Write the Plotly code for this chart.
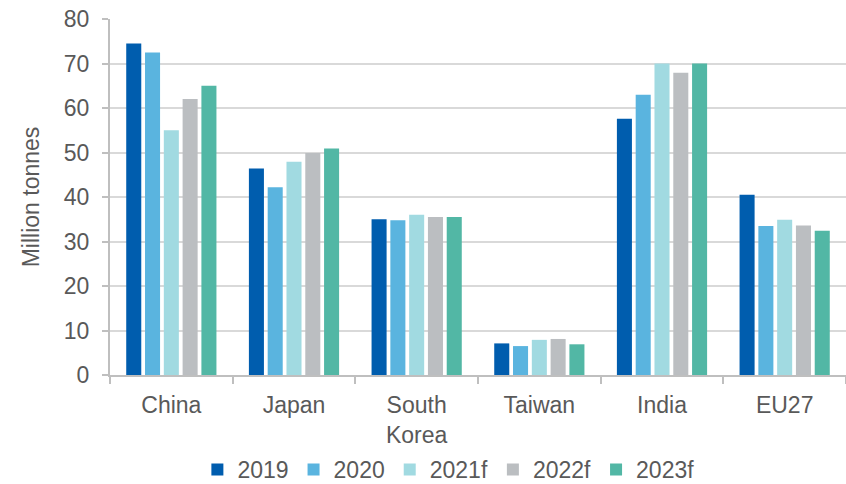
import plotly.graph_objects as go

categories = ["China", "Japan", "South<br>Korea", "Taiwan", "India", "EU27"]
series_names = ["2019", "2020", "2021f", "2022f", "2023f"]
v2019 = [74.5, 46.4, 35.0, 7.1, 57.6, 40.5]
v2020 = [72.5, 42.2, 34.8, 6.5, 63.0, 33.5]
v2021f = [55.0, 47.9, 36.0, 7.9, 70.0, 34.9]
v2022f = [62.0, 49.9, 35.5, 8.1, 67.9, 33.6]
v2023f = [65.0, 50.9, 35.5, 6.9, 70.0, 32.4]
series_values = [v2019, v2020, v2021f, v2022f, v2023f]
colors = ["#005DAE", "#5AB4DF", "#A1DAE1", "#BBBEC1", "#52B7A5"]
y_ticks = [0, 10, 20, 30, 40, 50, 60, 70, 80]

font_family = "Liberation Sans, Arial, sans-serif"
text_color = "#595959"

fig = go.Figure()
for name, vals, col in zip(series_names, series_values, colors):
    fig.add_trace(go.Bar(name=name, x=categories, y=vals, marker_color=col,
                         marker_line_width=0))

fig.update_layout(
    width=846, height=484,
    margin=dict(l=110, r=0, t=19, b=109, autoexpand=False),
    paper_bgcolor="white", plot_bgcolor="white",
    barmode="group", bargap=0.234, bargroupgap=0.2,
    font=dict(family=font_family, color=text_color, size=23),
    legend=dict(orientation="h", xref="container", x=0.530, xanchor="center",
                yref="paper", y=-0.205, yanchor="top", bgcolor="rgba(0,0,0,0)",
                font=dict(size=23, color=text_color), traceorder="normal",
                itemwidth=30),
    showlegend=True,
)
fig.update_xaxes(showline=True, linecolor="#BFBFBF", linewidth=2, automargin=False,
                 ticks="outside", tickson="boundaries", ticklen=7, tickcolor="#BFBFBF",
                 tickwidth=1.5, tickfont=dict(size=23, color=text_color),
                 ticklabelstandoff=8, tickangle=0, showgrid=False)
fig.update_yaxes(range=[0, 80], tickvals=y_ticks, showline=True, linecolor="#BFBFBF",
                 linewidth=2, ticks="outside", ticklen=6, tickcolor="#BFBFBF",
                 automargin=False,
                 tickwidth=1.5, showgrid=True, gridcolor="#D9D9D9", gridwidth=2,
                 tickfont=dict(size=23, color=text_color), ticklabelstandoff=8,
                 title=dict(text="Million tonnes", font=dict(size=23, color=text_color),
                            standoff=18),
                 zeroline=False)

fig.write_html("out.html")
